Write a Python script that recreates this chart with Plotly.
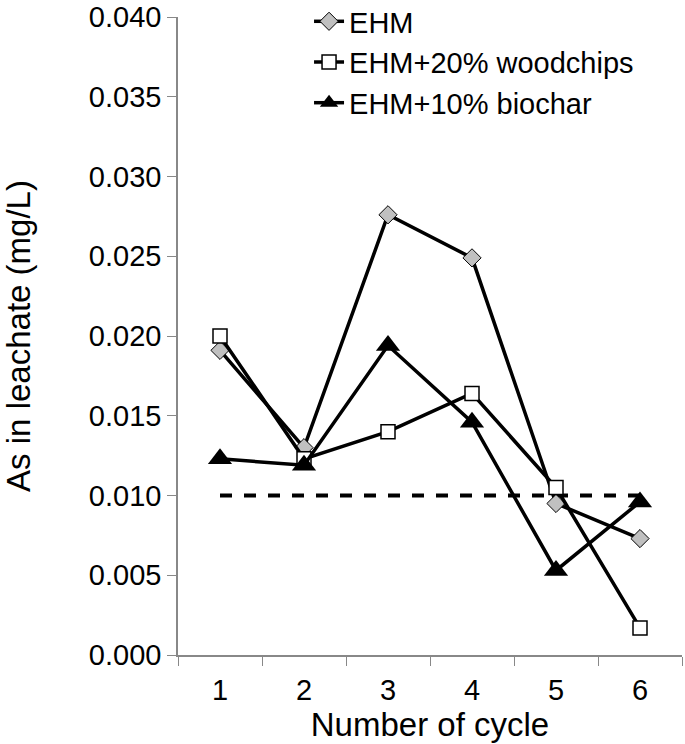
import plotly.graph_objects as go

cycles = ["1", "2", "3", "4", "5", "6"]
ehm = [0.0191, 0.0130, 0.0276, 0.0249, 0.0095, 0.0073]
woodchips = [0.0200, 0.0123, 0.0140, 0.0164, 0.0105, 0.0017]
biochar = [0.0123, 0.0119, 0.0194, 0.0146, 0.0053, 0.0096]
limit_x = ["1", "6"]
limit_y = [0.010, 0.010]

fnt = "Liberation Sans, Arial, sans-serif"

fig = go.Figure()
fig.add_trace(go.Scatter(
    x=limit_x, y=limit_y, mode="lines", showlegend=False,
    line=dict(color="black", width=4, dash="dash"),
))
fig.add_trace(go.Scatter(
    x=cycles, y=ehm, name="EHM", mode="lines+markers",
    line=dict(color="black", width=3.5),
    marker=dict(symbol="diamond", size=14, color="#c0c0c0",
                line=dict(color="black", width=1)),
))
fig.add_trace(go.Scatter(
    x=cycles, y=woodchips, name="EHM+20% woodchips", mode="lines+markers",
    line=dict(color="black", width=3.5),
    marker=dict(symbol="square", size=14, color="white",
                line=dict(color="black", width=1.5)),
))
fig.add_trace(go.Scatter(
    x=cycles, y=biochar, name="EHM+10% biochar", mode="lines+markers",
    line=dict(color="black", width=3.5),
    marker=dict(symbol="triangle-up", size=21, color="black"),
))

fig.update_layout(
    width=685, height=744,
    margin=dict(l=178, r=3, t=17, b=89, autoexpand=False),
    paper_bgcolor="white", plot_bgcolor="white",
    font=dict(family=fnt, size=29, color="black"),
    legend=dict(x=0.26, y=1.033, xanchor="left", yanchor="top",
                bgcolor="rgba(0,0,0,0)", font=dict(size=29),
                tracegroupgap=0),
)
fig.update_xaxes(
    type="category", categoryorder="array", categoryarray=cycles,
    range=[-0.5, 5.5],
    tickson="boundaries", ticks="outside", ticklen=9, tickcolor="#888",
    ticklabelstandoff=8,
    showline=True, linecolor="#888", linewidth=1.5, showgrid=False,
    title=dict(text="Number of cycle", font=dict(size=33), standoff=4),
)
fig.update_yaxes(
    range=[0, 0.040], dtick=0.005, tickformat=".3f",
    ticks="outside", ticklen=9, tickcolor="#888",
    showline=True, linecolor="#888", linewidth=1.5, showgrid=False,
    zeroline=False,
    title=dict(text="As in leachate (mg/L)", font=dict(size=33), standoff=60),
)

# drop the default 8px page margin so the figure sits at the window corner
fig.write_html("out.html", config={"displayModeBar": False},
               post_script="document.body.style.margin='0';")
